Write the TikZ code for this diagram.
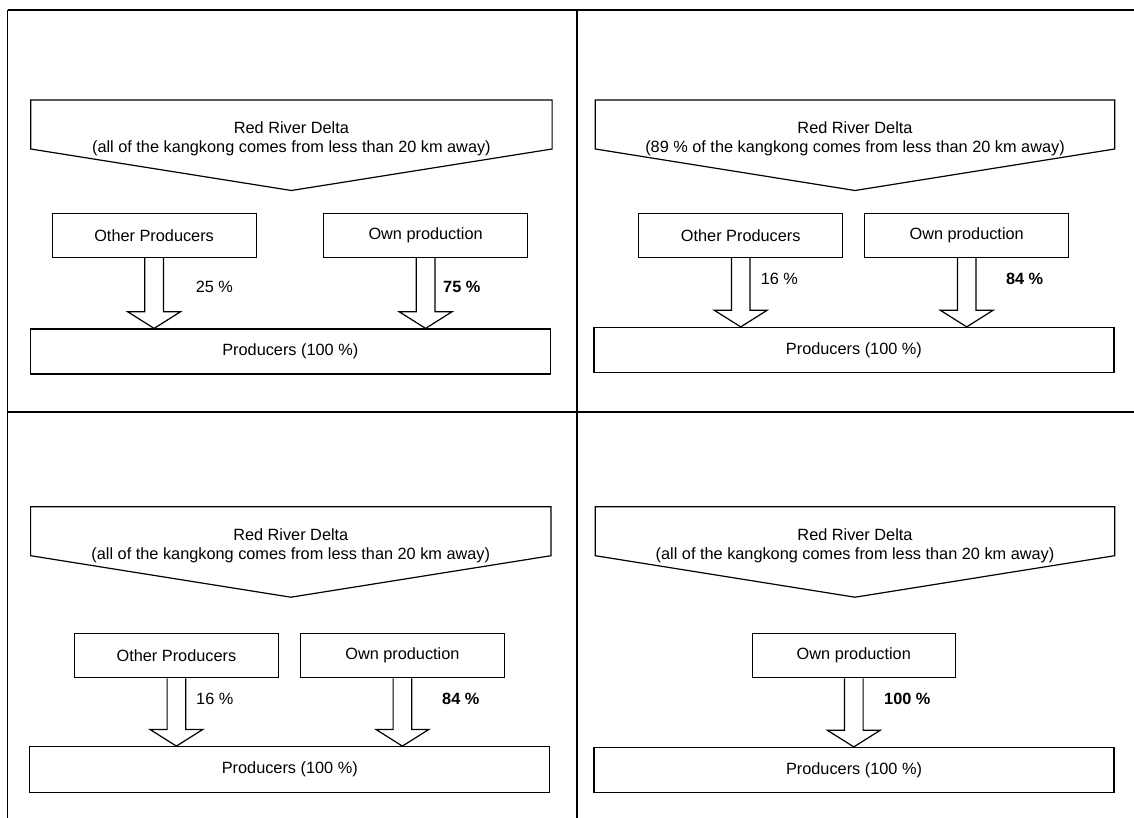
\documentclass[tikz,border=0pt]{standalone}
\usepackage{fontspec}
\setmainfont{Liberation Sans}
\usetikzlibrary{calc}

\newcommand{\boxfont}{\fontsize{16.3}{19}\selectfont}

% open block arrow from a source box down onto the target box
\newcommand{\blockarrow}[2]{%
  \draw[flow] let \p1=(#1.south), \p2=(#2.north) in
    (\x1-9.3pt,\y1) -- (\x1-9.3pt,\y2+16.7pt) -- (\x1-26.5pt,\y2+16.7pt) -- (\x1,\y2)
    -- (\x1+26.5pt,\y2+16.7pt) -- (\x1+9.3pt,\y2+16.7pt) -- (\x1+9.3pt,\y1);}

% pentagon outline round a region node
\newcommand{\regionoutline}[1]{%
  \draw[flow] (#1.north west) -- (#1.north east) -- ($(#1.north east)+(0,49)$)
    -- ($(#1.north)+(0,90.5)$) -- ($(#1.north west)+(0,49)$) -- cycle;}

\begin{document}
\begin{tikzpicture}[
    x=1pt, y=-1pt,
    frame/.style={draw, line width=1.6pt},
    flow/.style={draw, line width=1.2pt},
    region/.style={anchor=north, inner sep=0pt, minimum width=520pt, minimum height=77.6pt, align=center, font=\boxfont},
    source/.style={draw, line width=1.2pt, inner sep=0pt, minimum width=204pt, minimum height=44pt, font=\boxfont},
    target/.style={draw, line width=1.2pt, inner sep=0pt, minimum width=520pt, minimum height=45pt, font=\boxfont},
    pct/.style={anchor=west, inner sep=0pt, font=\boxfont}
]
\useasboundingbox (0,0) rectangle (1134,818);

\draw[frame] (7.5,10) -- (1134,10);
\draw[frame] (7.5,10) -- (7.5,818);
\draw[frame] (577,10) -- (577,818);
\draw[frame] (7.5,412) -- (1134,412);

% top left
\node[region, minimum width=521pt] (deltaA) at (291.4,100) {Red River Delta\\(all of the kangkong comes from less than 20 km away)};
\node[source] (otherA) at (154.1,235.3) {Other Producers};
\node[source] (ownA) at (425.6,235.3) {Own production};
\node[target] (prodA) at (290.3,351.5) {Producers (100 \%)};
\node[pct] (pctotherA) at (195.6,286.7) {25 \%};
\node[pct] (pctownA) at (443,286.7) {\bfseries 75 \%};

% top right
\node[region, minimum width=519pt] (deltaB) at (855,100) {Red River Delta\\(89 \% of the kangkong comes from less than 20 km away)};
\node[source] (otherB) at (740.7,235.3) {Other Producers};
\node[source] (ownB) at (966.7,235.3) {Own production};
\node[target] (prodB) at (853.9,350) {Producers (100 \%)};
\node[pct] (pctotherB) at (760.6,279.3) {16 \%};
\node[pct] (pctownB) at (1005.8,279.3) {\bfseries 84 \%};

% bottom left
\node[region] (deltaC) at (290.8,506.7) {Red River Delta\\(all of the kangkong comes from less than 20 km away)};
\node[source] (otherC) at (176.4,655.7) {Other Producers};
\node[source] (ownC) at (402.4,655.7) {Own production};
\node[target, minimum height=46pt] (prodC) at (289.8,769.7) {Producers (100 \%)};
\node[pct] (pctotherC) at (196,699) {16 \%};
\node[pct] (pctownC) at (442,699) {\bfseries 84 \%};

% bottom right
\node[region, minimum width=519pt] (deltaD) at (855,506.7) {Red River Delta\\(all of the kangkong comes from less than 20 km away)};
\node[source, minimum width=203pt] (ownD) at (853.8,655.7) {Own production};
\node[target] (prodD) at (854,770) {Producers (100 \%)};
\node[pct] (pctownD) at (884,699) {\bfseries 100 \%};

\regionoutline{deltaA}
\regionoutline{deltaB}
\regionoutline{deltaC}
\regionoutline{deltaD}

\blockarrow{otherA}{prodA}
\blockarrow{ownA}{prodA}
\blockarrow{otherB}{prodB}
\blockarrow{ownB}{prodB}
\blockarrow{otherC}{prodC}
\blockarrow{ownC}{prodC}
\blockarrow{ownD}{prodD}

\end{tikzpicture}
\end{document}
